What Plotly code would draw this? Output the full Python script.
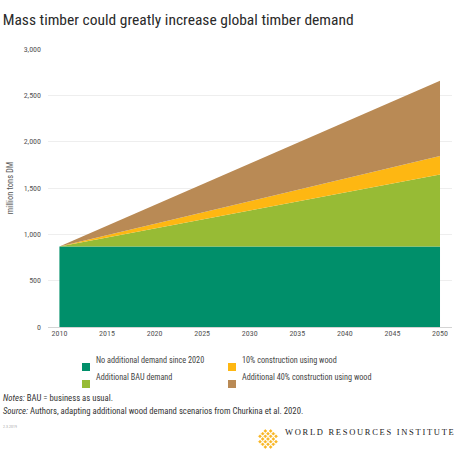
import plotly.graph_objects as go

# data (million tons dry matter)
years = [2010, 2050]
base_demand = [870, 870]
bau_extra = [0, 777]
wood10_extra = [0, 198]
wood40_extra = [0, 812]

names = [
    'No additional demand since 2020',
    'Additional BAU demand',
    '10% construction using wood',
    'Additional 40% construction using wood',
]
colors = ['#008F6A', '#97BB35', '#FEB712', '#B98A55']
y_ticks = [0, 500, 1000, 1500, 2000, 2500, 3000]
x_ticks = [2010, 2015, 2020, 2025, 2030, 2035, 2040, 2045, 2050]

W, H = 455, 454
L, R, T, B = 48, 3, 49, 127
FONT = 'Liberation Sans Narrow, Roboto Condensed, Roboto, sans-serif'


def px(x):
    return (x - L) / (W - L - R)


def py(y):
    return (H - B - y) / (H - T - B)


fig = go.Figure()
for name, vals, col in zip(names, [base_demand, bau_extra, wood10_extra, wood40_extra], colors):
    fig.add_trace(go.Scatter(
        x=years, y=vals, name=name, stackgroup='one',
        mode='lines', line=dict(width=0, color=col),
        fillcolor=col, showlegend=False, hoverinfo='skip',
    ))

# legend drawn by hand (2 columns, row-major order)
legend_order = [0, 2, 1, 3]
shapes = []
annotations = []
for k, idx in enumerate(legend_order):
    col_x = [82, 228][k % 2]
    row_y = [367, 384][k // 2]
    shapes.append(dict(type='rect', xref='paper', yref='paper',
                       x0=px(col_x), x1=px(col_x + 8),
                       y0=py(row_y + 4), y1=py(row_y - 4),
                       fillcolor=colors[idx], line=dict(width=0)))
    annotations.append(dict(xref='paper', yref='paper', x=px(col_x + 12), y=py(row_y),
                            text=names[idx], showarrow=False, xanchor='left',
                            font=dict(size=8.2, color='#444', family=FONT)))

# notes + source
annotations += [
    dict(xref='paper', yref='paper', x=px(1), y=py(405), xanchor='left',
         text='<i>Notes:</i> BAU = business as usual.', showarrow=False,
         font=dict(size=8.7, color='#333', family=FONT)),
    dict(xref='paper', yref='paper', x=px(1), y=py(418), xanchor='left',
         text='<i>Source:</i> Authors, adapting additional wood demand scenarios from Churkina et al. 2020.',
         showarrow=False, font=dict(size=8.7, color='#333', family=FONT)),
    dict(xref='paper', yref='paper', x=px(1), y=py(431), xanchor='left',
         text='2.3.2019', showarrow=False,
         font=dict(size=4, color='#aaa', family=FONT)),
    dict(xref='paper', yref='paper', x=px(283), y=py(439), xanchor='left',
         text='<span style="letter-spacing:1.7px">WORLD RESOURCES INSTITUTE</span>',
         showarrow=False,
         font=dict(size=8.5, color='#222', family='Liberation Serif, DejaVu Serif, serif')),
]

# WRI logo: lattice of little diamonds
cx, cy, step, d = 268, 439, 3.2, 1.5
for i in range(-2, 3):
    for j in range(-2, 3):
        if abs(i) + abs(j) > 3:
            continue
        x0 = cx + (i - j) * step / 1.2
        y0 = cy + (i + j) * step / 1.2
        path = 'M {} {} L {} {} L {} {} L {} {} Z'.format(
            px(x0), py(y0 - d), px(x0 + d), py(y0), px(x0), py(y0 + d), px(x0 - d), py(y0))
        shapes.append(dict(type='path', xref='paper', yref='paper', path=path,
                           fillcolor='#F8B521', line=dict(width=0.6, color='#F8B521')))

fig.update_layout(
    width=W, height=H,
    margin=dict(l=L, r=R, t=T, b=B, pad=0),
    paper_bgcolor='white', plot_bgcolor='white',
    title=dict(text='Mass timber could greatly increase global timber demand',
               x=0.006, xanchor='left', y=1 - 20 / H, yanchor='middle',
               font=dict(size=15.5, color='#2a2a2a', family=FONT)),
    xaxis=dict(range=[2008.8, 2051.26], tickvals=x_ticks, showgrid=False,
               zeroline=False, showline=False, ticks='',
               tickfont=dict(size=8, color='#555', family=FONT)),
    yaxis=dict(range=[0, 3000], tickvals=y_ticks, tickformat=',',
               showgrid=True, gridcolor='#eeeeee', gridwidth=1,
               zeroline=True, zerolinecolor='#d4d4d4', zerolinewidth=1,
               ticks='', ticklabelstandoff=6,
               tickfont=dict(size=8, color='#555', family=FONT),
               title=dict(text='million tons DM', standoff=8,
                          font=dict(size=8.5, color='#555', family=FONT))),
    shapes=shapes,
    annotations=annotations,
    showlegend=False,
)

# page has a default 8px body margin; drop it so the figure sits at the corner
fig.write_html('out.html', config={'displayModeBar': False},
               post_script="document.body.style.margin='0';")
